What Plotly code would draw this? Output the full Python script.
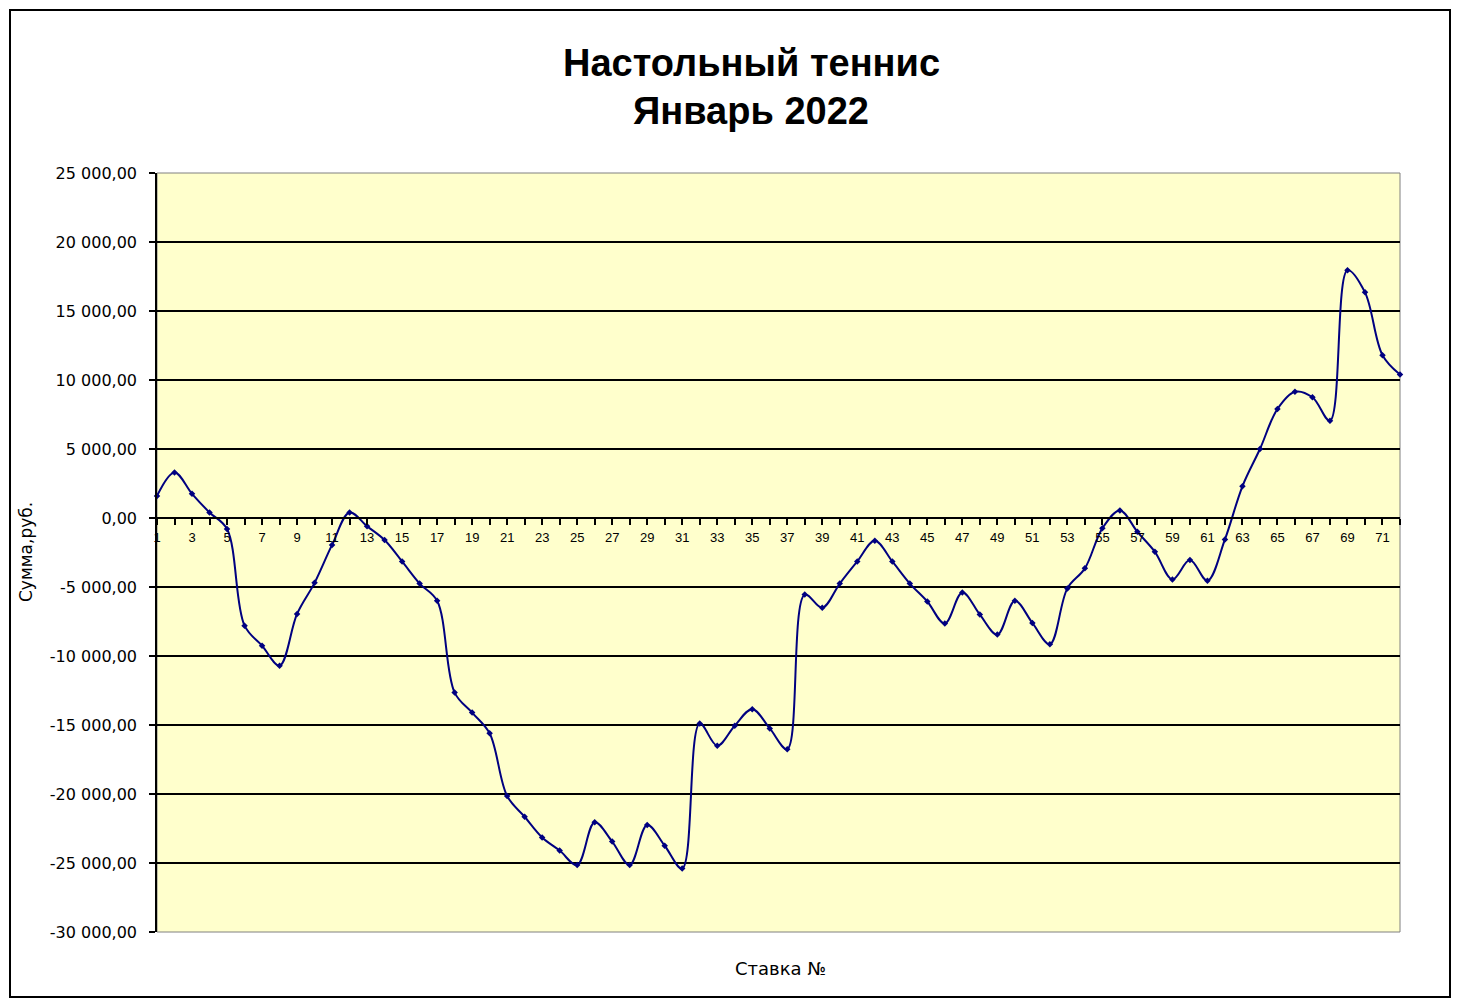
import plotly.graph_objects as go

bets = list(range(1, 73))
sums = [1600, 3300, 1750, 400, -800, -7800, -9250, -10700, -6950, -4700,
        -1950, 400, -600, -1600, -3150, -4750, -6000, -12650, -14100, -15600,
        -20150, -21650, -23150, -24100, -25150, -22050, -23450, -25150, -22250, -23750,
        -25400, -14900, -16500, -15050, -13850, -15250, -16750, -5550, -6500, -4750,
        -3150, -1650, -3150, -4750, -6050, -7650, -5400, -7000, -8450, -6000,
        -7600, -9150, -5100, -3650, -750, 550, -1000, -2450, -4450, -3050,
        -4550, -1550, 2300, 5000, 7900, 9150, 8750, 7050, 17950, 16350,
        11800, 10400]

y_tick_vals = [25000, 20000, 15000, 10000, 5000, 0, -5000, -10000, -15000, -20000, -25000, -30000]
y_tick_text = ["25 000,00", "20 000,00", "15 000,00", "10 000,00", "5 000,00", "0,00",
               "-5 000,00", "-10 000,00", "-15 000,00", "-20 000,00", "-25 000,00", "-30 000,00"]
x_tick_text = [str(b) if b % 2 == 1 and b < 72 else "" for b in bets]

title_lines = ["Настольный теннис", "Январь 2022"]
x_title = "Ставка №"
y_title = "Сумма,руб."

FONT = "Liberation Sans, Arial, sans-serif"
FONT2 = "DejaVu Sans, Verdana, sans-serif"

# page body has an 8px margin; figure sized to fit the 1460x1007 window
W, H = 1444, 991
L, T, PW, PH = 149, 165, 1243, 759


def px(ax):
    return (ax - 157) / PW


def py(ay):
    return (932 - ay) / PH


fig = go.Figure()
fig.add_trace(go.Scatter(
    x=bets, y=sums, mode="lines+markers",
    line=dict(color="#000080", width=2, shape="spline", smoothing=1.0),
    marker=dict(symbol="diamond", size=5, color="#000080"),
    cliponaxis=False, showlegend=False,
))

fig.update_layout(
    width=W, height=H,
    margin=dict(l=L, r=W - L - PW, t=T, b=H - T - PH, pad=0),
    paper_bgcolor="white", plot_bgcolor="#FFFFCC",
    font=dict(family=FONT, color="black"),
    xaxis=dict(
        range=[1, 72], tickvals=bets, ticktext=x_tick_text,
        anchor="free", position=30000 / 55000,
        showline=True, linecolor="black", linewidth=1.5,
        ticks="outside", ticklen=6, tickcolor="black", tickwidth=1.5,
        showgrid=False, zeroline=False, ticklabelstandoff=2,
        tickfont=dict(size=13, family=FONT, color="black"),
    ),
    yaxis=dict(
        range=[-30000, 25000], tickvals=y_tick_vals, ticktext=y_tick_text,
        showline=True, linecolor="black", linewidth=1.5,
        ticks="outside", ticklen=6, tickcolor="black", tickwidth=1.5,
        showgrid=True, gridcolor="black", gridwidth=1.5, zeroline=False,
        ticklabelstandoff=9,
        tickfont=dict(size=16, family=FONT2, color="black"),
    ),
    shapes=[
        dict(type="rect", xref="paper", yref="paper", x0=0, x1=1, y0=0, y1=1,
             line=dict(color="#808080", width=1), layer="below"),
        dict(type="rect", xref="paper", yref="paper",
             x0=px(10), x1=px(1450), y0=py(997), y1=py(10),
             line=dict(color="black", width=2)),
    ],
    annotations=[
        dict(text="<b>%s</b>" % title_lines[0], xref="paper", yref="paper",
             x=px(751), y=py(63), xanchor="center", yanchor="middle",
             showarrow=False, font=dict(size=38, family=FONT, color="black")),
        dict(text="<b>%s</b>" % title_lines[1], xref="paper", yref="paper",
             x=px(751), y=py(111), xanchor="center", yanchor="middle",
             showarrow=False, font=dict(size=38, family=FONT, color="black")),
        dict(text=x_title, xref="paper", yref="paper",
             x=px(780), y=py(968), xanchor="center", yanchor="middle",
             showarrow=False, font=dict(size=18, family=FONT2, color="black")),
        dict(text=y_title, xref="paper", yref="paper", textangle=-90,
             x=px(26), y=py(552), xanchor="center", yanchor="middle",
             showarrow=False, font=dict(size=17, family=FONT2, color="black")),
    ],
)

fig.write_html("out.html")
